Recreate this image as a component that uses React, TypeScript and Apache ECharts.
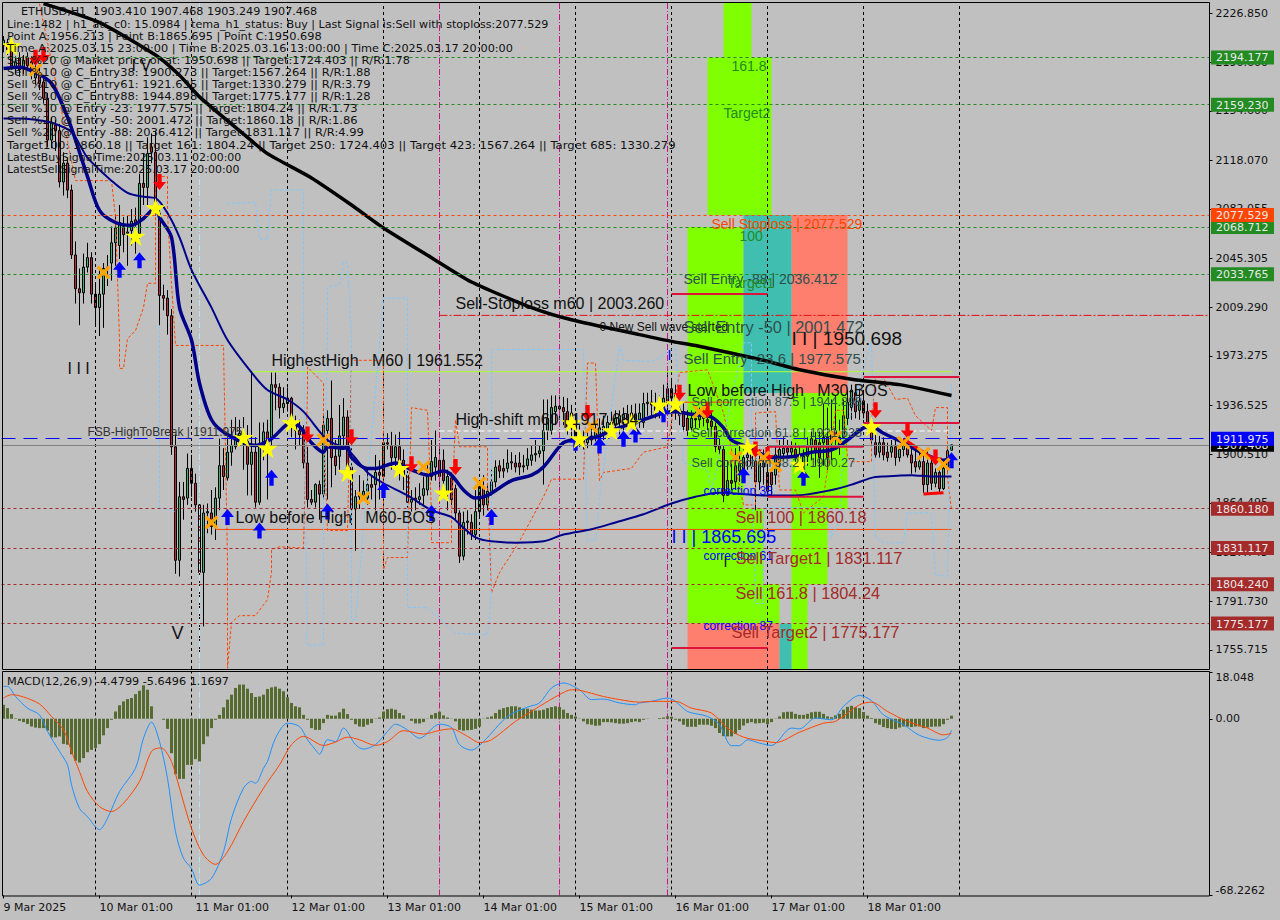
import React, { useEffect, useRef } from "react";
import * as echarts from "echarts";

const BAR_SLOTS = 302;
const dayLabels = ["9 Mar 2025","10 Mar 01:00","11 Mar 01:00","12 Mar 01:00","13 Mar 01:00","14 Mar 01:00","15 Mar 01:00","16 Mar 01:00","17 Mar 01:00","18 Mar 01:00"];
const daySeparators = [23,47,71,95,119,143,167,191,215,239];
const magentaLines = [109,139,166];
const cyanLines = [49];

// open, close, low, high
const candles = [
[2203,2207,2198,2210],[2205,2200,2196,2208],[2203,2188,2185,2206],[2186,2191,2182,2195],[2194,2185,2180,2198],[2186,2192,2182,2196],[2194,2188,2184,2198],[2191,2183,2178,2195],[2179,2186,2174,2190],[2183,2175,2170,2188],
[2176,2164,2160,2180],[2164,2133,2128,2168],[2133,2146,2127,2150],[2144,2140,2125,2148],[2140,2102,2098,2145],[2102,2116,2092,2124],[2116,2096,2090,2120],[2096,2048,2045,2100],[2048,2023,2012,2058],[2023,2020,1996,2038],
[2020,2039,2012,2049],[2039,2046,2035,2057],[2046,2019,2012,2050],[2019,2009,1996,2027],[2009,2019,1988,2037],[2019,2038,1994,2042],[2038,2039,2025,2048],[2042,2057,2029,2069],[2057,2068,2040,2078],[2055,2072,2045,2085],
[2069,2063,2050,2076],[2064,2065,2040,2077],[2066,2073,2055,2082],[2074,2071,2049,2083],[2064,2101,2060,2108],[2101,2098,2085,2123],[2098,2123,2085,2135],[2128,2124,2116,2138],[2124,2083,2077,2140],[2079,2018,1995,2083],
[2018,2016,2007,2026],[2016,2003,1989,2022],[2003,1906,1900,2008],[1906,1822,1812,1915],[1822,1869,1810,1880],[1869,1867,1852,1880],[1868,1890,1863,1901],[1890,1879,1869,1900],[1879,1863,1858,1886],[1863,1813,1752,1867],
[1813,1857,1773,1863],[1857,1858,1842,1864],[1857,1847,1841,1874],[1847,1868,1837,1876],[1868,1892,1859,1912],[1892,1884,1874,1905],[1883,1902,1881,1913],[1902,1907,1892,1926],[1906,1912,1904,1928],[1912,1916,1907,1926],
[1915,1910,1889,1928],[1910,1893,1870,1922],[1893,1902,1870,1961],[1902,1865,1861,1913],[1865,1906,1863,1924],[1906,1917,1896,1924],[1917,1911,1867,1926],[1912,1952,1907,1961],[1952,1950,1933,1961],[1950,1935,1927,1953],
[1935,1938,1931,1950],[1938,1942,1932,1950],[1942,1922,1913,1943],[1924,1918,1904,1929],[1918,1915,1907,1926],[1920,1894,1890,1922],[1894,1867,1861,1906],[1867,1865,1863,1874],[1865,1878,1861,1879],[1878,1871,1852,1881],
[1871,1922,1867,1929],[1918,1927,1867,1933],[1927,1898,1876,1955],[1899,1892,1885,1911],[1899,1914,1889,1937],[1914,1928,1907,1942],[1928,1891,1885,1933],[1891,1860,1848,1915],[1860,1869,1829,1874],[1869,1870,1860,1885],
[1870,1873,1867,1881],[1868,1878,1863,1889],[1878,1876,1867,1885],[1878,1887,1859,1900],[1887,1885,1867,1896],[1884,1909,1852,1916],[1909,1908,1904,1916],[1907,1898,1889,1917],[1898,1906,1889,1915],[1906,1896,1881,1917],
[1896,1885,1874,1904],[1885,1865,1861,1892],[1865,1867,1858,1874],[1868,1867,1859,1876],[1867,1869,1863,1879],[1870,1875,1863,1884],[1874,1884,1870,1895],[1884,1895,1881,1911],[1891,1898,1881,1918],[1896,1884,1870,1907],
[1896,1881,1874,1904],[1872,1884,1859,1889],[1883,1867,1863,1887],[1875,1857,1852,1878],[1857,1825,1820,1859],[1825,1850,1822,1858],[1850,1851,1841,1859],[1850,1841,1837,1856],[1841,1858,1837,1874],[1858,1878,1853,1881],
[1876,1863,1855,1885],[1863,1873,1859,1879],[1873,1880,1870,1889],[1880,1891,1876,1896],[1892,1888,1883,1896],[1890,1888,1883,1897],[1890,1894,1887,1904],[1894,1895,1889,1902],[1894,1891,1887,1900],[1894,1891,1885,1902],
[1892,1891,1887,1900],[1892,1897,1889,1905],[1896,1900,1892,1907],[1900,1901,1895,1911],[1901,1903,1898,1907],[1903,1918,1878,1941],[1918,1927,1911,1941],[1918,1935,1915,1944],[1932,1936,1922,1944],[1936,1934,1926,1944],
[1935,1932,1922,1943],[1932,1921,1915,1942],[1931,1921,1912,1937],[1924,1912,1907,1929],[1913,1909,1906,1922],[1912,1909,1904,1918],[1909,1913,1905,1918],[1914,1911,1907,1920],[1912,1918,1910,1924],[1912,1920,1910,1927],
[1916,1921,1911,1929],[1918,1924,1915,1929],[1920,1924,1915,1932],[1922,1927,1918,1933],[1924,1929,1915,1933],[1926,1930,1918,1935],[1930,1924,1918,1937],[1931,1925,1920,1937],[1925,1930,1920,1938],[1925,1931,1920,1938],
[1924,1938,1920,1946],[1938,1939,1929,1946],[1939,1937,1929,1948],[1938,1933,1927,1946],[1933,1937,1927,1944],[1935,1942,1929,1952],[1938,1949,1929,1961],[1949,1942,1932,1957],[1944,1933,1926,1952],[1934,1929,1922,1941],
[1932,1921,1917,1938],[1927,1918,1914,1933],[1920,1927,1917,1933],[1927,1926,1920,1932],[1926,1929,1920,1935],[1931,1927,1921,1935],[1926,1924,1918,1933],[1925,1921,1915,1931],[1921,1906,1902,1924],[1907,1904,1900,1912],
[1904,1870,1865,1907],[1870,1881,1870,1896],[1881,1879,1874,1895],[1880,1892,1874,1905],[1888,1894,1880,1907],[1889,1898,1883,1907],[1898,1900,1889,1907],[1900,1892,1889,1907],[1895,1880,1859,1906],[1880,1894,1874,1904],
[1894,1891,1878,1904],[1887,1873,1869,1895],[1887,1878,1870,1890],[1885,1900,1878,1907],[1894,1904,1889,1911],[1901,1905,1896,1913],[1905,1902,1898,1911],[1902,1905,1898,1910],[1904,1898,1895,1909],[1898,1894,1889,1907],
[1894,1899,1885,1904],[1899,1907,1892,1913],[1906,1912,1896,1918],[1911,1902,1892,1917],[1909,1898,1883,1918],[1909,1913,1892,1938],[1913,1898,1889,1935],[1909,1917,1896,1941],[1918,1912,1904,1944],[1913,1906,1900,1926],
[1913,1929,1907,1941],[1927,1939,1922,1948],[1935,1948,1926,1952],[1946,1932,1927,1952],[1933,1940,1926,1949],[1940,1931,1927,1946],[1932,1924,1921,1938],[1924,1911,1907,1927],[1909,1900,1898,1922],[1902,1909,1898,1914],
[1909,1900,1896,1913],[1902,1898,1895,1909],[1902,1906,1898,1911],[1906,1898,1892,1911],[1898,1904,1895,1907],[1904,1907,1899,1912],[1909,1900,1898,1917],[1900,1894,1886,1907],[1895,1891,1887,1905],[1891,1895,1889,1904],
[1895,1878,1872,1902],[1878,1894,1872,1904],[1894,1879,1874,1899],[1879,1887,1876,1890],[1887,1875,1872,1890],[1875,1890,1874,1894],[1890,1903,1886,1907],[1903.41,1907.468,1903.249,1907.468],
];

const maLong = [[10,2234],[24,2220],[38,2196],[44,2181],[49,2165],[59,2140],[66,2123],[77,2105],[87,2085],[95,2068],[107,2046],[117,2028],[132,2009],[142,2000],[159,1989],[167,1984],[173,1981],[190,1970],[199,1963],[212,1956],[224,1952],[237,1944]];
const maFast = [[0,2186],[4,2187],[8,2183],[12,2175],[16,2150],[21,2106],[24,2081],[28,2072],[32,2070],[35,2075],[38,2083],[39,2076],[42,2061],[44,2009],[47,1985],[49,1953],[52,1926],[56,1915],[63,1907],[67,1912],[72,1924],[74,1921],[77,1909],[80,1902],[81,1906],[85,1905],[86,1906],[87,1898],[91,1890],[93,1890],[98,1894],[102,1889],[106,1885],[110,1888],[112,1885],[115,1874],[118,1868],[121,1870],[127,1881],[132,1885],[135,1891],[140,1909],[144,1912],[148,1913],[152,1918],[158,1924],[165,1931],[168,1932],[172,1930],[177,1928],[180,1920],[182,1911],[186,1906],[190,1900],[193,1898],[198,1899],[202,1902],[206,1903],[208,1905],[211,1911],[215,1920],[217,1921],[220,1916],[225,1909],[230,1901],[235,1896],[237,1898]];
const maSlow = [[0,2149],[4,2149],[8,2148],[12,2146],[17,2139],[21,2120],[27,2103],[31,2094],[35,2091],[38,2090],[41,2079],[44,2061],[47,2037],[52,2009],[56,1985],[62,1961],[66,1948],[71,1941],[75,1932],[81,1911],[86,1904],[91,1887],[95,1879],[101,1870],[107,1859],[112,1854],[115,1846],[118,1839],[122,1836],[128,1835],[135,1836],[140,1841],[147,1845],[153,1850],[160,1856],[167,1864],[173,1869],[179,1872],[190,1870],[198,1870],[207,1874],[212,1878],[217,1883],[220,1884],[227,1885],[232,1884],[237,1884]];
const orangeEnvelope = [[9,2234],[13,2177],[18,2103],[27,2103],[28,2076],[29,1985],[29,1964],[30,1964],[31,1986],[33,1992],[35,2009],[36,2027],[38,2027],[38,2064],[38,2106],[41,2106],[41,2079],[42,2027],[43,1981],[55,1981],[56,1822],[56,1742],[57,1776],[59,1781],[63,1781],[66,1793],[67,1813],[67,1830],[69,1832],[75,1831],[76,1948],[76,1965],[80,1953],[80,1924],[81,1844],[86,1844],[87,1970],[95,1970],[95,1887],[95,1815],[96,1824],[101,1824],[102,1935],[106,1933],[107,1857],[107,1835],[112,1835],[112,1857],[113,1926],[114,1906],[121,1906],[121,1879],[122,1798],[124,1813],[129,1836],[135,1869],[137,1882],[145,1882],[146,1968],[148,1968],[149,1881],[150,1887],[157,1890],[160,1902],[166,1906],[169,1961],[176,1963],[180,1931],[185,1863],[188,1863],[188,1931],[193,1932],[194,1874],[198,1874],[200,1857],[205,1869],[206,1889],[207,1911],[208,1933],[210,1933],[211,1898],[212,1895],[217,1895],[217,1924],[218,1958],[220,1957],[223,1941],[226,1942],[228,1929],[232,1918],[233,1935],[236,1935],[236,1884],[237,1859]];
const blueEnvelope = [[39,1996],[39,1861],[43,1858],[43,null],[56,2086],[63,2087],[64,2060],[66,2060],[67,2096],[75,2096],[75,1985],[76,1759],[80,1759],[80,1861],[81,1985],[81,2024],[84,2026],[85,2043],[86,2042],[87,1985],[87,1778],[88,1778],[95,2016],[101,2016],[101,1787],[102,1787],[106,1787],[113,1768],[121,1767],[122,1798],[122,1978],[145,1978],[146,1837],[148,1837],[149,1867],[154,1981],[155,1970],[162,1969],[164,1972],[168,1980],[170,1894],[176,1889],[177,1872],[185,1983],[187,1983],[187,1891],[188,1790],[190,1790],[190,1861],[206,1861],[207,1839],[209,1852],[210,1911],[213,1941],[217,1985],[218,1839],[220,1835],[225,1835],[226,1857],[232,1857],[233,1811],[236,1810],[237,1953]];

const starMarks = [[2,2203],[33,2062],[38,2083],[60,1913],[66,1905],[72,1924],[86,1887],[99,1890],[110,1872],[142,1924],[144,1912],[152,1918],[157,1924],[164,1937],[168,1938],[186,1906],[199,1893],[217,1921]];
const crossMarks = [[8,2185],[25,2035],[52,1850],[80,1911],[90,1868],[105,1891],[119,1879],[147,1921],[174,1932],[183,1898],[190,1898],[193,1892],[208,1913],[225,1909],[230,1901],[235,1893]];
const sellArrows = [[8,2194],[10,2196],[39,2102],[76,1915],[87,1913],[102,1893],[113,1891],[146,1931],[169,1946],[176,1933],[188,1904],[191,1900],[218,1933],[226,1918],[233,1898]];
const buyArrows = [[29,2037],[34,2044],[56,1854],[64,1844],[67,1883],[81,1858],[95,1874],[107,1857],[122,1854],[143,1909],[149,1907],[155,1912],[158,1915],[165,1930],[185,1885],[200,1883],[237,1896]];

// first bar, last bar, top price, bottom price
const limeZones = [[180,187,2234.5,2194.177],[176,192,2194.177,2077.529],[171,185,2068.712,1860.18],[171,190,1860.18,1804.24],[171,194,1804.24,1775.177],[197,201,1804.24,1741.5],[197,206,1860.18,1804.24],[197,211,1945.8,1860.18]];
const salmonZones = [[171,194,1775.177,1741.5],[197,211,2077.529,1945.8]];
const tealZones = [[194,197,1775.177,1741.5],[185,197,2077.529,1945.8]];

const greenLevels = [2194.177,2159.23,2068.712,2033.765];
const stopLevel = 2077.529;
const targetLevels = [1860.18,1831.117,1804.24,1775.177];
const breakLevel = 1911.975;
const lastPrice = 1907.468;

const crimsonSegs = [[167,2019],[191,2019],[191,null],[167,1757],[191,1757],[191,null],[191,1906],[215,1906],[215,null],[191,1869],[215,1869],[215,null],[215,1957.6],[239,1957.6],[239,null],[215,1923.6],[239,1923.6]];
const redSegs = [[225,1912],[233,1896],[233,null],[230,1871],[235,1872]];
const stopM60 = [[109,2003.26],[301,2003.26]];
const highestM60 = [[62,1961.552],[237,1961.552]];
const lowM60 = [[53,1844.8],[237,1844.8]];
const lowM30 = [[168,1939],[182,1939]];
const highShift = [[109,1917.68],[237,1917.68]];

const priceTicks = [2226.85,2190.6,2154.6,2118.07,2082.055,2045.305,2009.29,1973.275,1936.525,1900.51,1864.495,1827.745,1791.73,1755.715];
const macdTicks = [18.048,0,-68.2262];

const priceTags = [
  {p:2194.177,c:"#228B22"},{p:2159.23,c:"#228B22"},{p:2068.712,c:"#228B22"},{p:2077.529,c:"#FF4500"},{p:2033.765,c:"#228B22"},
  {p:1907.468,c:"#000000"},{p:1911.975,c:"#0000FF"},{p:1860.18,c:"#A52A2A"},{p:1831.117,c:"#A52A2A"},{p:1804.24,c:"#A52A2A"},{p:1775.177,c:"#A52A2A"},
];

const macdHist = [5.4,4.1,1.8,0.2,-0.8,-1.3,-2,-3,-3.4,-3.6,-3.6,-4.6,-7.2,-7.2,-6.8,-9.7,-10,-13.7,-16.2,-16.9,-15.2,-12.9,-12,-11.3,-9.8,-6.4,-3.6,-0.4,2.8,5.2,6.7,7.6,8,9.5,10.8,12.9,11.2,4.8,0,0,-0.4,-3.9,-13.3,-21.4,-23.2,-23.2,-17.8,-17.8,-15.6,-16.5,-9.8,-6.8,-3.6,-0.4,1.5,4.4,7.4,9.3,11.9,13.2,13.2,11.6,9.9,8.4,8.6,9.3,11.5,12.1,12.4,11.6,10.6,8.3,6.1,4.8,4.4,1.5,-0.4,-3.6,-4.3,-4.3,-1.7,1.5,1.2,1.2,2.5,3.9,1.8,-0.4,-2.1,-3,-3.1,-2.3,-1.7,-0.1,0.5,2.8,3.7,3.9,3.5,2.2,1.3,0,-0.8,-1.8,-1.8,-1.3,-0.1,1.5,2.2,2.7,1.3,0.5,-0.1,-1,-4.3,-4.6,-4.4,-4.3,-3.9,-3,-0.1,0.5,0.9,2.2,3.5,4.1,4.5,4.8,4.8,4.4,3.9,3.9,3.5,3.2,3.2,3.5,4.1,4.5,4.8,4.5,3.5,2.2,1.5,0.9,-0.1,-1,-2.1,-2.3,-2.7,-2.6,-1.3,-1.3,-1.4,-1.7,-1.9,-1.9,-1.7,-1.3,-1,-1.3,-0.4,-0.1,0,0,0.3,0.5,0.9,0.8,-0.4,-1,-2.3,-3.1,-3.1,-3.1,-2.3,-2.3,-2.3,-2.7,-3.6,-5.5,-6.7,-6.8,-6.8,-5.9,-4.3,-2.6,-1.7,-1.3,-1.8,-1.7,-1.5,-2.1,-1.3,-0.1,0.9,2.5,2.7,2.7,1.9,1.5,1.5,1.9,2.5,2.7,2.7,1.9,0.9,0.6,1.3,1.9,3.5,4.6,5,4.4,4.1,2.6,1.2,0.3,-1.7,-2.3,-3.2,-3.6,-3.9,-4,-3.4,-3,-3,-3.2,-3,-3,-3.6,-3.4,-3.1,-3,-3,-2.1,-0.4,1.1697];
const macdMain = [[0,12.5],[1,12.5],[3,8.6],[6,4.1],[9,1.5],[11,-4.9],[14,-12.6],[16,-17.8],[17,-25.5],[19,-34.6],[21,-37.8],[24,-42.8],[26,-38.4],[29,-28.1],[33,-19.1],[35,-7.5],[37,-1.3],[39,-8.8],[41,-23],[43,-43.6],[45,-53.9],[47,-57.8],[49,-64.2],[52,-61.6],[55,-51.3],[57,-38.4],[60,-26.8],[62,-24.2],[63,-24.9],[65,-19.1],[66,-16.5],[68,-7.5],[71,-1.7],[74,-3],[76,-8.1],[78,-12],[79,-13.7],[81,-8.1],[83,-8.8],[85,-3.6],[88,-10],[90,-11.7],[93,-10],[96,-4.9],[98,-2.1],[101,-4.3],[104,-7.5],[109,-2.1],[112,-3.4],[114,-10],[117,-12.1],[120,-8.8],[126,0.9],[131,4.5],[134,6.1],[137,11.9],[140,13.8],[144,11.2],[147,7.4],[150,7.6],[154,6.1],[158,5.4],[159,6.1],[162,6.7],[166,8],[168,6.7],[171,2.8],[176,0.9],[179,-2.3],[182,-10.4],[184,-10.4],[186,-8.1],[189,-9.4],[192,-10.3],[197,-3.6],[199,-3.9],[203,0.3],[207,-0.4],[210,4.8],[214,9],[217,7],[220,1.5],[225,-2.3],[229,-6.4],[234,-8.3],[236,-7.2],[237,-4.4799]];
const macdSignal = [[0,8],[2,9.3],[5,8.4],[9,5.7],[12,0.9],[15,-4.3],[17,-12.6],[19,-20.4],[21,-28.1],[24,-33.9],[27,-35.8],[30,-32.6],[34,-24.2],[37,-12.6],[39,-11.3],[40,-11.6],[42,-16.5],[44,-26.8],[47,-42.3],[50,-52.6],[53,-56.2],[56,-51.3],[60,-39.7],[65,-26.8],[69,-17.8],[72,-10],[75,-6.8],[80,-10.3],[83,-9],[86,-7.1],[89,-8.1],[93,-10.3],[96,-8.8],[100,-4.6],[105,-5.9],[109,-4.5],[112,-3.9],[116,-6.8],[119,-9.2],[122,-8.1],[128,-1],[134,4.8],[139,9.3],[142,11.2],[144,11],[150,8.6],[154,7.4],[159,6.4],[162,6.7],[168,6.7],[172,4.1],[177,2.2],[181,-3.6],[185,-7.1],[191,-8.8],[193,-9.2],[199,-5.2],[205,-1.7],[208,-1],[214,5.4],[217,6.4],[221,2.8],[226,-1],[231,-3.6],[235,-6.2],[237,-5.6496]];

const infoLines = [
  "Line:1482 | h1_atr_c0: 15.0984 | tema_h1_status: Buy | Last Signal is:Sell with stoploss:2077.529",
  "Point A:1956.213 | Point B:1865.695 | Point C:1950.698",
  "Time A:2025.03.15 23:00:00 | Time B:2025.03.16 13:00:00 | Time C:2025.03.17 20:00:00",
  "Sell %20 @ Market price or at: 1950.698 || Target:1724.403 || R/R:1.78",
  "Sell %10 @ C_Entry38: 1900.273 || Target:1567.264 || R/R:1.88",
  "Sell %10 @ C_Entry61: 1921.635 || Target:1330.279 || R/R:3.79",
  "Sell %10 @ C_Entry88: 1944.898 || Target:1775.177 || R/R:1.28",
  "Sell %10 @ Entry -23: 1977.575 || Target:1804.24 || R/R:1.73",
  "Sell %20 @ Entry -50: 2001.472 || Target:1860.18 || R/R:1.86",
  "Sell %20 @ Entry -88: 2036.412 || Target:1831.117 || R/R:4.99",
  "Target100: 1860.18 || Target 161: 1804.24 || Target 250: 1724.403 || Target 423: 1567.264 || Target 685: 1330.279",
  "LatestBuySignalTime:2025.03.11 02:00:00",
  "LatestSellSignalTime:2025.03.17 20:00:00",
];
const infoWidthFit = [1.011,1.033,1.026,1.036,1.046,1.046,1.046,1.048,1.048,1.044,1.06,0.997,0.994];
const titleLine = "ETHUSD,H1  1903.410 1907.468 1903.249 1907.468";
const macdTitle = "MACD(12,26,9) -4.4799 -5.6496 1.1697";

const BLACK = "#111111", BROWN = "#A52A2A", SLATE = "#2F4F4F", FOREST = "#228B22", RED = "#FF4500", BLUE = "#0000FF";
// bar, price, text, size, colour
const chartLabels: any[] = [
  [16,1964,"I I I",16,BLACK],[42,1768,"V",18,BLACK],[32,2188,"I V",16,BLACK],
  [67,1970,"HighestHigh   M60 | 1961.552",16,BLACK],[21,1917,"FSB-HighToBreak | 1911.975",12,"#333333"],
  [58,1854,"Low before High   M60-BOS",16,BLACK],[113,2012,"Sell-Stoploss m60 | 2003.260",16,BLACK],
  [113,1926,"High-shift m60 | 1917.684",16,BLACK],[149,1995,"0 New Sell wave started",12,BLACK],
  [170,2030,"Sell Entry -88 | 2036.412",14,SLATE],[181,2027,"Target1",14,FOREST],[170,1995,"Sell Entry -50 | 2001.472",16.4,SLATE],
  [170,1971,"Sell Entry -23.6 | 1977.575",15,SLATE],[197,1986,"I I | 1950.698",19,BLACK],[171,1948,"Low before High   M30-BOS",16,BLACK],
  [172,1939,"Sell correction 87.5 | 1944.898",12.6,SLATE],[172,1916,"Sell correction 61.8 | 1921.635",12.6,SLATE],[172,1894,"Sell correction 38.2 | 1900.27",12.6,SLATE],
  [175,1873,"correction 38",12,BLUE],[167,1839,"I I | 1865.695",18,BLUE],[175,1825,"correction 61",12,BLUE],[175,1773,"correction 87",12,BLUE],
  [183,1854,"Sell 100 | 1860.18",16.3,BROWN],[183,1824,"Sell Target1 | 1831.117",16.4,BROWN],[183,1798,"Sell 161.8 | 1804.24",16.3,BROWN],[182,1769,"Sell Target2 | 1775.177",16.4,BROWN],
  [177,2071,"Sell Stoploss | 2077.529",14,RED],[184,2062,"100",14,FOREST],[182,2188,"161.8",14,FOREST],[180,2153,"Target2",14,FOREST],
  [166,1974,"I",14,BLUE],[180,1821,"I",14,BLACK],
];

const UI_FONT = "DejaVu Sans";
const LABEL_FONT = "Liberation Sans";
const UP = "path://M6 0 L12 7 L8 7 L8 14 L4 14 L4 7 L0 7 Z";
const STAR = "path://M50 0 L61 35 L98 35 L68 57 L79 91 L50 70 L21 91 L32 57 L2 35 L39 35 Z";
const CROSS = "path://M0 2 L2 0 L6 4 L10 0 L12 2 L8 6 L12 10 L10 12 L6 8 L2 12 L0 10 L4 6 Z";

function lineSeries(data: any[], color: string, width: number, extra: any = {}) {
  return { type: "line", data, xAxisIndex: 0, yAxisIndex: 0, showSymbol: false, symbol: "none", silent: true, z: extra.z || 4, clip: true, connectNulls: false,
    lineStyle: { color, width, type: extra.dash || "solid" }, smooth: extra.smooth || false };
}
function vLines(bars: number[], lo: number, hi: number) {
  const out: any[] = [];
  bars.forEach((b) => { out.push([b, lo], [b, hi], [b, null]); });
  return out;
}
function levelSeries(level: number, color: string, dash: any) {
  return { type: "line", xAxisIndex: 0, yAxisIndex: 0, data: [], silent: true, z: 2,
    markLine: { silent: true, symbol: "none", label: { show: false }, lineStyle: { color, width: 1, type: dash }, data: [{ yAxis: level }] } };
}
function zoneSeries(zones: number[][], fill: string) {
  return { type: "custom", xAxisIndex: 0, yAxisIndex: 0, silent: true, z: 1, clip: true, data: zones,
    encode: { x: [0, 1], y: [2, 3] },
    renderItem: (_p: any, api: any) => {
      const a = api.coord([api.value(0), api.value(2)]);
      const b = api.coord([api.value(1), api.value(3)]);
      return { type: "rect", shape: { x: a[0], y: a[1], width: b[0] - a[0], height: b[1] - a[1] }, style: { fill } };
    } };
}
function markSeries(data: number[][], symbol: string, size: any, color: string, rotate = 0, z = 6) {
  return { type: "scatter", data, xAxisIndex: 0, yAxisIndex: 0, symbol, symbolSize: size, symbolRotate: rotate, silent: true, z,
    itemStyle: { color, opacity: 1 } };
}
function macdLine(data: any[], color: string, z: number, smooth: any, dash: any = "solid") {
  return { type: "line", xAxisIndex: 1, yAxisIndex: 1, data, symbol: "none", silent: true, z, smooth, lineStyle: { color, width: 1, type: dash } };
}

export default function App() {
  const ref = useRef<HTMLDivElement>(null);
  useEffect(() => {
    document.body.style.margin = "0";
    const chart = echarts.init(ref.current!, undefined, { renderer: "svg" });
    const categories = Array.from({ length: BAR_SLOTS }, (_, i) => String(i));
    const isDayTick = (i: number) => i % 24 === 0 && i / 24 < dayLabels.length;
    const option: any = {
      animation: false,
      backgroundColor: "#C0C0C0",
      grid: [
        { left: 1.5, top: 3, width: 1208, height: 666 },
        { left: 1.5, top: 672, width: 1208, height: 223.5 },
      ],
      xAxis: [
        { type: "category", gridIndex: 0, data: categories, show: false },
        { type: "category", gridIndex: 1, data: categories, position: "bottom",
          axisLine: { show: false, onZero: false },
          axisTick: { show: true, alignWithLabel: true, length: 3, lineStyle: { color: "#000" }, interval: isDayTick },
          axisLabel: { interval: isDayTick, formatter: (_v: string, i: number) => dayLabels[i / 24] || "",
            color: "#111", fontFamily: UI_FONT, fontSize: 11, align: "left", margin: 6, hideOverlap: false },
        },
      ],
      yAxis: [
        { type: "value", gridIndex: 0, position: "right", min: 1741.5, max: 2234.5, splitLine: { show: false },
          axisLine: { show: true, onZero: false, lineStyle: { color: "#000" } },
          axisTick: { show: true, length: 3, customValues: priceTicks, lineStyle: { color: "#000" } },
          axisLabel: { customValues: priceTicks, formatter: (v: number) => v.toFixed(3), color: "#111", fontFamily: UI_FONT, fontSize: 11, margin: 6 } },
        { type: "value", gridIndex: 1, position: "right", min: -68.2262, max: 18.048, splitLine: { show: false },
          axisLine: { show: true, onZero: false, lineStyle: { color: "#000" } },
          axisTick: { show: true, length: 3, customValues: macdTicks, lineStyle: { color: "#000" } },
          axisLabel: { customValues: macdTicks, formatter: (v: number) => (v === 0 ? "0.00" : String(v)), color: "#111", fontFamily: UI_FONT, fontSize: 11, margin: 6,
            verticalAlignMaxLabel: "bottom", verticalAlignMinLabel: "top" } },
      ],
      series: [
        zoneSeries(limeZones, "#7FFF00"),
        zoneSeries(salmonZones, "#FF7F6E"),
        zoneSeries(tealZones, "#40BFB0"),
        lineSeries(vLines(daySeparators, 1741.5, 2234.5), "#000000", 1, { dash: [3, 3] }),
        lineSeries(vLines(magentaLines, 1741.5, 2234.5), "#C71585", 1, { dash: [6, 2, 1, 2] }),
        lineSeries(vLines(cyanLines, 1741.5, 2234.5), "#B0E8F0", 1, { dash: [6, 2, 1, 2] }),
        ...greenLevels.map((p) => levelSeries(p, FOREST, [3, 3])),
        levelSeries(stopLevel, RED, [3, 3]),
        ...targetLevels.map((p) => levelSeries(p, BROWN, [3, 3])),
        levelSeries(lastPrice, "#808080", "solid"),
        levelSeries(breakLevel, BLUE, [14, 8]),
        lineSeries(stopM60, "#E01010", 1, { dash: [8, 2, 2, 2] }),
        lineSeries(highestM60, "#ADFF2F", 1),
        lineSeries(lowM60, RED, 1),
        lineSeries(lowM30, RED, 1),
        lineSeries(highShift, "#FFFFFF", 1, { dash: [5, 3] }),
        lineSeries(orangeEnvelope, RED, 1, { dash: [3, 2] }),
        lineSeries(blueEnvelope, "#7EC8FF", 1, { dash: [3, 2] }),
        { type: "candlestick", data: candles, xAxisIndex: 0, yAxisIndex: 0, barWidth: 3, silent: true, z: 3, clip: true,
          itemStyle: { color: "#3CB371", color0: "#C0283C", borderColor: "#000", borderColor0: "#000", borderWidth: 1 } },
        lineSeries(maLong, "#000000", 3.5, { smooth: 0.2 }),
        lineSeries(maSlow, "#00008B", 2, { smooth: 0.3 }),
        lineSeries(maFast, "#00008B", 3.5, { smooth: 0.3 }),
        lineSeries(crimsonSegs, "#DC143C", 2),
        lineSeries(redSegs, "#FF0000", 3),
        markSeries(buyArrows, UP, [13, 16], "#0000FF"),
        markSeries(sellArrows, UP, [13, 16], "#FF0000", 180),
        markSeries(starMarks, STAR, 20, "#FFFF00"),
        markSeries(crossMarks, CROSS, 14, "#FFA500"),
        { type: "custom", xAxisIndex: 0, yAxisIndex: 0, silent: true, z: 7, clip: false,
          data: chartLabels.map((l) => [l[0], l[1]]),
          renderItem: (p: any, api: any) => {
            const l = chartLabels[p.dataIndex];
            const pt = api.coord([api.value(0), api.value(1)]);
            return { type: "text", x: pt[0], y: pt[1], style: { text: l[2], fontSize: l[3], fontFamily: LABEL_FONT, fill: l[4], textAlign: "left", verticalAlign: "middle" } };
          } },
        { type: "custom", xAxisIndex: 0, yAxisIndex: 0, silent: true, z: 9, clip: false,
          data: priceTags.map((t) => [0, t.p]),
          renderItem: (p: any, api: any) => {
            const t = priceTags[p.dataIndex];
            const pt = api.coord([api.value(0), api.value(1)]);
            return { type: "group", children: [
              { type: "rect", shape: { x: 1211, y: pt[1] - 7, width: 63, height: 14 }, style: { fill: t.c } },
              { type: "text", x: 1216, y: pt[1] + 0.5, style: { text: t.p.toFixed(3), fontSize: 11, fontFamily: UI_FONT, fill: "#E8E8E8", textAlign: "left", verticalAlign: "middle" } },
            ] };
          } },
        { type: "bar", xAxisIndex: 1, yAxisIndex: 1, data: macdHist, barWidth: 3, silent: true, z: 2, itemStyle: { color: "#556B2F" } },
        macdLine(vLines(daySeparators, -68.2262, 18.048), "#000", 1, false, [3, 3]),
        macdLine(vLines(magentaLines, -68.2262, 18.048), "#C71585", 1, false, [6, 2, 1, 2]),
        macdLine(vLines(cyanLines, -68.2262, 18.048), "#B0E8F0", 1, false, [6, 2, 1, 2]),
        macdLine(macdMain, "#1E90FF", 3, 0.3),
        macdLine(macdSignal, "#FF4500", 4, 0.3),
      ],
      graphic: [
        { type: "rect", z: 20, silent: true, shape: { x: 2.5, y: 2.5, width: 1207, height: 667 }, style: { fill: "none", stroke: "#000", lineWidth: 1 } },
        { type: "rect", z: 20, silent: true, shape: { x: 2.5, y: 671.5, width: 1207, height: 224.5 }, style: { fill: "none", stroke: "#000", lineWidth: 1 } },
        { type: "text", z: 21, silent: true, x: 21, y: 12, scaleX: 1.017, style: { text: titleLine, fontSize: 11, fontFamily: UI_FONT, fill: "#111", verticalAlign: "middle" } },
        ...infoLines.map((line, k) => ({ type: "text", z: 21, silent: true, x: 7, y: 25 + 12 * k, scaleX: infoWidthFit[k], style: { text: line, fontSize: 11, fontFamily: UI_FONT, fill: "#111", verticalAlign: "middle" } })),
        { type: "text", z: 21, silent: true, x: 7, y: 682, scaleX: 1.022, style: { text: macdTitle, fontSize: 11, fontFamily: UI_FONT, fill: "#111", verticalAlign: "middle" } },
      ],
    };
    chart.setOption(option);
    return () => chart.dispose();
  }, []);
  return <div ref={ref} style={{ position: "fixed", left: 0, top: 0, width: 1280, height: 920 }} />;
}
